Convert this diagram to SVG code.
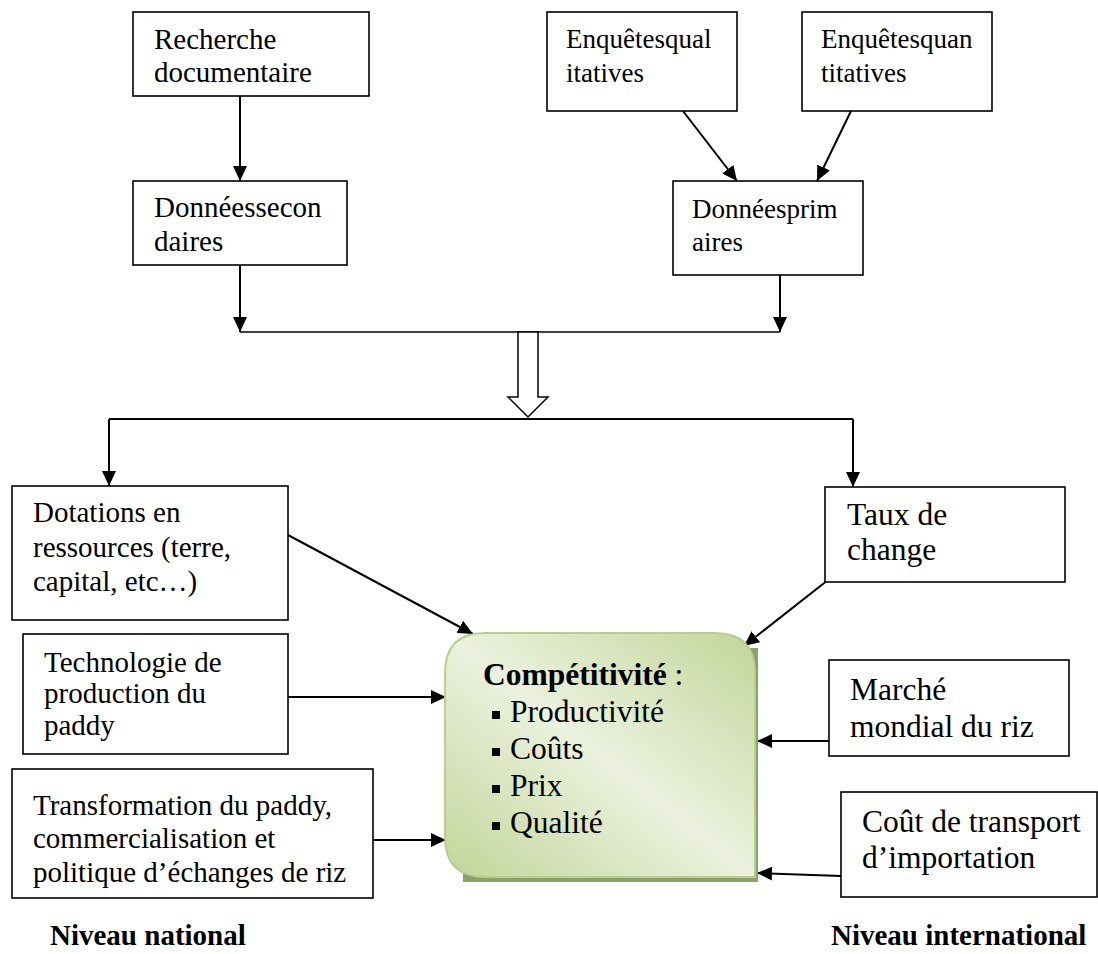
<svg xmlns="http://www.w3.org/2000/svg" width="1098" height="954" viewBox="0 0 1098 954">
<style>
.box{fill:#fff;stroke:#000;stroke-width:1.6}
.t{font-family:"Liberation Serif","Times New Roman",serif;fill:#000}
.c{stroke:#000;stroke-width:2;fill:none}
.ca{stroke:#000;stroke-width:2;fill:none;marker-end:url(#ah)}
</style>
<defs>
<marker id="ah" markerUnits="userSpaceOnUse" markerWidth="16" markerHeight="14" refX="15" refY="7" orient="auto">
<path d="M0,0 L15,7 L0,14 z" fill="#000"/>
</marker>
<linearGradient id="g" x1="1" y1="0" x2="0" y2="1">
<stop offset="0" stop-color="#c2d599"/>
<stop offset="0.5" stop-color="#ebf1de"/>
<stop offset="1" stop-color="#c2d599"/>
</linearGradient>
</defs>

<g id="connectors">
<line class="ca" x1="240" y1="96" x2="240" y2="181"/>
<line class="ca" x1="683" y1="111" x2="737" y2="181"/>
<line class="ca" x1="851" y1="111" x2="817" y2="181"/>
<line class="ca" x1="240" y1="265" x2="240" y2="332"/>
<line class="ca" x1="780" y1="275" x2="780" y2="332"/>
<line stroke="#000" stroke-width="1.3" x1="240" y1="332" x2="780" y2="332"/>
<path d="M518,332 L538,332 L538,397 L548,397 L528,417 L508,397 L518,397 Z" fill="#fff" stroke="#000" stroke-width="1.5"/>
<path class="c" d="M109,419 L853,419"/>
<line class="ca" x1="109" y1="419" x2="109" y2="486"/>
<line class="ca" x1="853" y1="419" x2="853" y2="487"/>
<line class="ca" x1="288" y1="535" x2="473" y2="634"/>
<line class="ca" x1="288" y1="697" x2="446" y2="697"/>
<line class="ca" x1="373" y1="840" x2="446" y2="840"/>
<line class="ca" x1="828" y1="580" x2="744" y2="646"/>
<line class="ca" x1="829" y1="741" x2="757" y2="741"/>
<line class="ca" x1="841" y1="876" x2="757" y2="873"/>
</g>

<g id="recherche">
<rect class="box" x="133" y="12" width="236" height="84"/>
<text class="t" font-size="29" x="154" y="49">Recherche</text>
<text class="t" font-size="29" x="154" y="82">documentaire</text>
</g>
<g id="donnees-secondaires">
<rect class="box" x="133" y="181" width="214" height="84"/>
<text class="t" font-size="29" x="154" y="217">Donnéessecon</text>
<text class="t" font-size="29" x="154" y="251">daires</text>
</g>
<g id="enquetes-qual">
<rect class="box" x="547" y="12" width="190" height="99"/>
<text class="t" font-size="27" x="566" y="48">Enquêtesqual</text>
<text class="t" font-size="27" x="566" y="82">itatives</text>
</g>
<g id="enquetes-quan">
<rect class="box" x="802" y="12" width="190" height="99"/>
<text class="t" font-size="27" x="821" y="48">Enquêtesquan</text>
<text class="t" font-size="27" x="821" y="82">titatives</text>
</g>
<g id="donnees-primaires">
<rect class="box" x="673" y="181" width="190" height="94"/>
<text class="t" font-size="27" x="692" y="218">Donnéesprim</text>
<text class="t" font-size="27" x="692" y="251">aires</text>
</g>

<g id="dotations">
<rect class="box" x="12" y="486" width="276" height="134"/>
<text class="t" font-size="29" x="33" y="522">Dotations en</text>
<text class="t" font-size="29" x="33" y="557">ressources (terre,</text>
<text class="t" font-size="29" x="33" y="591">capital, etc…)</text>
</g>
<g id="technologie">
<rect class="box" x="23" y="634" width="265" height="120"/>
<text class="t" font-size="29" x="44" y="672">Technologie de</text>
<text class="t" font-size="29" x="44" y="703">production du</text>
<text class="t" font-size="29" x="44" y="735">paddy</text>
</g>
<g id="transformation">
<rect class="box" x="12" y="769" width="361" height="129"/>
<text class="t" font-size="29" x="33" y="815">Transformation du paddy,</text>
<text class="t" font-size="29" x="33" y="848">commercialisation et</text>
<text class="t" font-size="29" x="33" y="882">politique d’échanges de riz</text>
</g>

<g id="taux">
<rect class="box" x="825" y="487" width="240" height="95"/>
<text class="t" font-size="31.5" x="847" y="525">Taux de</text>
<text class="t" font-size="31.5" x="847" y="560">change</text>
</g>
<g id="marche">
<rect class="box" x="829" y="660" width="240" height="96"/>
<text class="t" font-size="31.5" x="850" y="700">Marché</text>
<text class="t" font-size="31.5" x="850" y="737">mondial du riz</text>
</g>
<g id="cout-transport">
<rect class="box" x="841" y="792" width="256" height="105"/>
<text class="t" font-size="31.5" x="862" y="832">Coût de transport</text>
<text class="t" font-size="31.5" x="862" y="868">d’importation</text>
</g>

<g id="competitivite">
<rect x="463" y="648" width="295" height="234" fill="#8e9f6c"/>
<path d="M485,633 L715,633 Q755,633 755,673 L755,877 L485,877 Q445,877 445,837 L445,673 Q445,633 485,633 Z" fill="url(#g)" stroke="#b8cd8f" stroke-width="2"/>
<text class="t" font-size="31.5" x="483" y="685"><tspan font-weight="bold">Compétitivité</tspan> :</text>
<rect x="492" y="711" width="8" height="8" fill="#000"/>
<text class="t" font-size="31.5" x="510" y="722">Productivité</text>
<rect x="492" y="748" width="8" height="8" fill="#000"/>
<text class="t" font-size="31.5" x="510" y="759">Coûts</text>
<rect x="492" y="785" width="8" height="8" fill="#000"/>
<text class="t" font-size="31.5" x="510" y="796">Prix</text>
<rect x="492" y="822" width="8" height="8" fill="#000"/>
<text class="t" font-size="31.5" x="510" y="833">Qualité</text>
</g>

<g id="labels">
<text class="t" font-size="29" font-weight="bold" x="50" y="945">Niveau national</text>
<text class="t" font-size="29" font-weight="bold" x="831" y="945">Niveau international</text>
</g>
</svg>
